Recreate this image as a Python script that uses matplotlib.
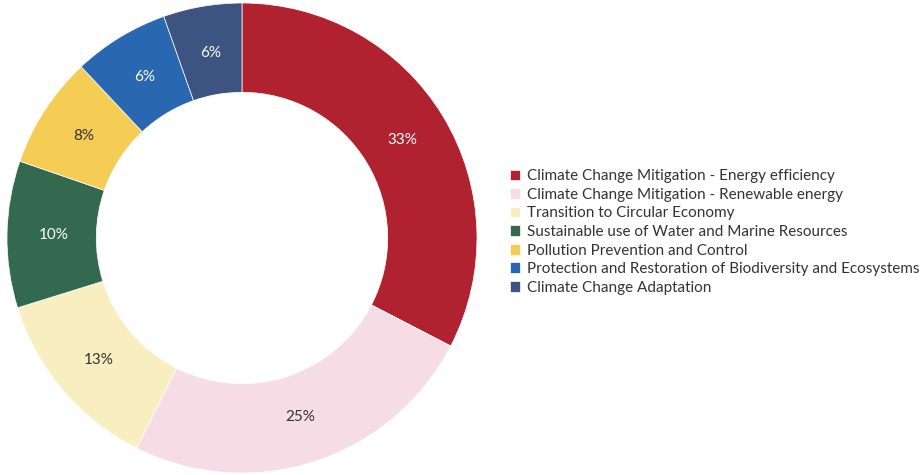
import matplotlib
matplotlib.use('Agg')
import matplotlib.pyplot as plt

plt.rcParams['font.family'] = ['Lato', 'DejaVu Sans']

categories = ['Climate Change Mitigation - Energy efficiency',
              'Climate Change Mitigation - Renewable energy',
              'Transition to Circular Economy',
              'Sustainable use of Water and Marine Resources',
              'Pollution Prevention and Control',
              'Protection and Restoration of Biodiversity and Ecosystems',
              'Climate Change Adaptation']
shares = [32.6, 24.8, 12.8, 10.1, 7.7, 6.6, 5.4]
pct_labels = ['33%', '25%', '13%', '10%', '8%', '6%', '6%']
colors = ['#B0222F', '#F5DCE5', '#F9EEC0', '#336A4F', '#F5CD55', '#2968B0', '#3D5483']
text_colors = ['white', '#333333', '#333333', 'white', '#333333', 'white', 'white']

fig = plt.figure(figsize=(9.24, 4.75), dpi=100)
ax = fig.add_axes([7/924, 2/475, 470/924, 470/475])

wedges, texts = ax.pie(shares, colors=colors, labels=pct_labels, labeldistance=0.8,
                       startangle=90, counterclock=False, radius=1,
                       wedgeprops=dict(width=0.38, edgecolor='white', linewidth=0.5))
for t, c in zip(texts, text_colors):
    t.set_ha('center')
    t.set_va('center')
    t.set_color(c)
    t.set_fontsize(11)
ax.set_xlim(-1, 1)
ax.set_ylim(-1, 1)
ax.set_aspect('equal')

fig.legend(wedges, categories, loc='center left', bbox_to_anchor=(496/924, 1 - 232/475),
           frameon=False, fontsize=11, handlelength=0.7, handleheight=0.7,
           handletextpad=0.45, labelspacing=0.3, labelcolor='#333333')

fig.savefig('out.png', dpi=100)
